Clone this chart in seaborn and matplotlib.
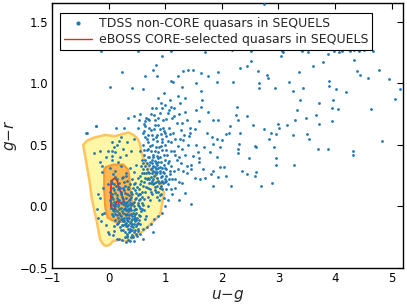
import numpy as np
import pandas as pd
import matplotlib
matplotlib.use("Agg")
import matplotlib.pyplot as plt
import seaborn as sns
from matplotlib.lines import Line2D

# ---------------- data ----------------
# TDSS non-CORE quasars: (u-g, g-r)
sparse_points = [
    (2.75,1.64),(-0.14,1.26),(0.51,1.26),(1.10,1.26),(1.71,1.25),(2.18,1.27),(2.52,1.26),(3.07,1.26),
    (4.07,1.25),(4.42,1.26),(4.52,1.27),(4.67,1.26),(3.41,1.26),(3.52,1.25),(3.88,1.24),(3.99,1.26),
    (4.13,1.26),(4.26,1.26),(4.34,1.27),(0.24,1.09),(0.02,0.97),(0.41,0.96),(0.60,0.95),(0.65,1.06),
    (0.79,1.11),(0.84,1.15),(0.95,1.22),(0.86,1.06),(1.10,1.02),(1.14,1.01),(1.23,1.06),(1.31,1.10),
    (1.41,1.11),(1.49,1.11),(1.63,1.08),(1.76,1.06),(1.94,1.09),(1.55,1.00),(1.29,0.97),(1.64,0.94),
    (1.91,1.01),(2.20,1.01),(2.32,1.12),(2.44,1.14),(2.52,1.18),(2.64,1.10),(2.65,1.00),(2.65,0.96),
    (2.79,1.07),(2.82,1.04),(2.94,0.96),(3.04,1.22),(3.08,1.25),(3.19,1.01),(3.25,0.94),(3.36,1.09),
    (3.44,0.96),(3.61,1.14),(3.78,1.17),(3.89,1.02),(3.90,0.98),(3.96,0.86),(4.02,0.95),(4.20,0.93),
    (4.33,1.19),(4.38,1.10),(4.45,1.07),(4.58,1.04),(4.78,1.11),(4.96,1.03),(5.06,0.87),(5.14,0.95),
    (4.64,0.79),(4.83,0.53),(3.94,0.80),(4.06,0.79),(3.95,0.69),(3.67,0.74),(3.71,0.67),(3.72,0.84),
    (3.48,0.72),(3.51,0.59),(3.54,0.55),(3.38,0.86),(3.32,0.78),(3.29,0.70),(3.15,0.66),(3.01,0.64),
    (3.00,0.67),(3.26,0.58),(2.96,0.59),(2.92,0.48),(2.96,0.39),(2.96,0.34),(3.27,0.34),(3.70,0.47),
    (3.87,0.47),(4.31,0.45),(4.32,0.42),(2.88,0.19),(2.70,0.17),(2.61,0.28),(2.58,0.25),(2.48,0.39),
    (2.58,0.49),(2.61,0.48),(2.75,0.63),(2.83,0.55),(2.86,0.60),(2.55,0.66),(2.45,0.73),(2.26,0.81),
    (2.25,0.74),(2.29,0.70),(2.32,0.60),(2.30,0.51),(2.29,0.47),(2.28,0.43),(2.35,0.29),(2.44,0.26),
    (2.14,0.65),(2.12,0.60),(2.08,0.59),(2.01,0.54),(1.96,0.48),(1.92,0.40),(1.96,0.32),(2.04,0.32),
    (2.08,0.25),(1.94,0.24),(1.85,0.29),(1.81,0.26),(1.67,0.30),(1.62,0.22),(1.60,0.36),(1.49,0.41),
    (1.58,0.44),(1.79,0.44),(1.85,0.51),(1.91,0.55),(1.82,0.56),(1.73,0.60),(1.85,0.70),(1.94,0.70),
    (1.76,0.77),(1.64,0.81),(1.65,0.86),(1.55,0.78),(1.60,0.69),(1.52,0.63),(1.44,0.64),(1.38,0.70),
    (1.34,0.77),(1.26,0.84),(1.34,0.88),(1.22,0.90),(1.11,0.81),(1.16,0.73),(1.42,0.57),(1.32,0.54),
    (1.55,0.50),(1.68,0.48),(1.59,0.39),(1.45,0.34),(1.38,0.33),(1.31,0.29),(1.29,0.19),(1.24,0.05),
    (1.46,0.02),(1.35,0.11),(1.52,0.23),(1.71,0.23),(2.17,0.17),(1.85,0.17),(0.79,-0.21),(1.17,0.22),
    (1.11,0.14),(1.02,0.21),(-0.40,0.60),(-0.22,0.65),(0.13,0.64),(0.27,0.64),(0.35,0.72),(0.44,0.73),
    (0.55,0.75),(0.64,0.69),(0.70,0.71),
]
core_region_points = [
    (0.02,0.31),(0.12,0.29),(0.21,0.33),(0.30,0.27),(0.38,0.31),(0.45,0.28),(0.07,0.26),(0.26,0.24),
    (0.49,0.34),(0.16,0.36),(0.04,0.21),(0.09,0.18),(0.14,0.22),(0.19,0.19),(0.23,0.23),(0.28,0.17),
    (0.33,0.21),(0.37,0.18),(0.42,0.22),(0.47,0.19),(0.52,0.23),(0.11,0.24),(0.31,0.25),(0.56,0.18),
    (0.03,0.12),(0.07,0.15),(0.12,0.11),(0.16,0.14),(0.21,0.12),(0.25,0.15),(0.29,0.11),(0.34,0.14),
    (0.39,0.12),(0.43,0.15),(0.48,0.11),(0.53,0.14),(0.58,0.12),(0.18,0.16),(0.36,0.09),(0.02,0.05),
    (0.06,0.08),(0.10,0.04),(0.14,0.07),(0.19,0.05),(0.23,0.08),(0.27,0.04),(0.31,0.07),(0.36,0.05),
    (0.40,0.08),(0.45,0.04),(0.49,0.07),(0.54,0.05),(0.58,0.08),(0.62,0.06),(0.17,0.02),(0.34,0.01),
    (0.04,-0.01),(0.08,0.01),(0.12,-0.02),(0.16,0.00),(0.21,-0.01),(0.25,0.02),(0.29,-0.02),(0.33,0.00),
    (0.38,-0.01),(0.42,0.02),(0.46,-0.02),(0.51,0.01),(0.55,-0.01),(0.60,0.01),(0.05,-0.06),(0.10,-0.04),
    (0.14,-0.07),(0.18,-0.05),(0.22,-0.08),(0.26,-0.05),(0.30,-0.07),(0.35,-0.04),(0.39,-0.06),(0.44,-0.08),
    (0.48,-0.05),(0.53,-0.07),(0.57,-0.04),(0.12,-0.11),(0.17,-0.13),(0.21,-0.10),(0.25,-0.12),(0.29,-0.14),
    (0.33,-0.11),(0.37,-0.13),(0.41,-0.10),(0.46,-0.12),(0.50,-0.14),(0.54,-0.11),(0.23,-0.15),(0.39,-0.16),
    (0.20,-0.17),(0.26,-0.19),(0.30,-0.16),(0.34,-0.18),(0.38,-0.20),(0.43,-0.17),(0.47,-0.19),(0.32,-0.22),
    (0.41,-0.23),(0.52,-0.18),(0.28,-0.25),(0.35,-0.27),(0.40,-0.25),(0.45,-0.28),(0.31,-0.29),(0.50,-0.24),
    (0.55,-0.22),(0.60,-0.26),(0.27,-0.09),(0.31,-0.03),(0.36,-0.09),(0.40,-0.03),(0.44,-0.10),(0.28,-0.01),
    (0.33,-0.16),(0.37,-0.02),(0.42,-0.14),(0.47,-0.09),(0.30,0.03),(0.35,-0.12),(0.45,0.00),(0.49,-0.11),
    (0.26,-0.15),(0.43,-0.05),(0.38,0.03),(0.32,-0.06),(0.41,-0.19),(0.36,-0.21),
    (-0.15,0.45),(-0.05,0.40),(0.05,0.45),(-0.12,0.28),(-0.18,0.10),(-0.10,0.15),(-0.08,-0.05),(-0.05,-0.15),
    (0.00,-0.22),(0.10,-0.20),(0.15,-0.26),(0.05,0.52),(0.15,0.50),(0.25,0.47),(0.33,0.52),(0.30,0.42),
    (0.40,0.45),(0.45,0.55),(0.20,0.40),(-0.02,0.18),(0.05,0.38),(0.12,0.44),(0.22,0.56),(-0.20,-0.02),
    (-0.39,0.60),(-0.23,0.65),(-0.26,0.43),(-0.16,0.36),(-0.12,0.33),(-0.01,0.45),(0.06,0.41),(0.09,0.48),
    (0.18,0.53),(-0.15,0.07),(-0.12,-0.06),(-0.18,-0.09),(-0.13,-0.12),(-0.01,-0.21),(0.07,-0.23),(0.09,-0.16),
    (0.18,-0.26),(0.24,-0.27),(0.32,-0.24),
]
core_dense_points = [
    (0.06,0.19),(0.13,0.17),(0.20,0.15),(0.27,0.20),(0.35,0.16),(0.44,0.18),(0.50,0.16),(0.05,0.10),
    (0.10,0.13),(0.15,0.09),(0.22,0.10),(0.27,0.13),(0.32,0.10),(0.41,0.10),(0.46,0.13),(0.51,0.09),
    (0.56,0.10),(0.04,0.03),(0.08,0.06),(0.12,0.02),(0.16,0.05),(0.21,0.03),(0.25,0.06),(0.29,0.01),
    (0.33,0.04),(0.38,0.06),(0.43,0.03),(0.47,0.06),(0.52,0.03),(0.56,0.06),(0.07,-0.03),(0.11,0.00),
    (0.15,-0.04),(0.19,-0.02),(0.23,-0.04),(0.27,-0.02),(0.35,-0.02),(0.39,0.01),(0.44,-0.03),(0.49,-0.02),
    (0.53,0.00),(0.58,-0.02),(0.08,-0.08),(0.12,-0.06),(0.16,-0.09),(0.20,-0.07),(0.24,-0.10),(0.28,-0.06),
    (0.32,-0.09),(0.36,-0.07),(0.41,-0.08),(0.46,-0.06),(0.50,-0.09),(0.55,-0.08),(0.14,-0.14),(0.19,-0.12),
    (0.27,-0.12),(0.31,-0.13),(0.35,-0.15),(0.39,-0.12),(0.44,-0.14),(0.48,-0.16),(0.52,-0.13),(0.22,-0.19),
    (0.28,-0.21),(0.37,-0.18),(0.45,-0.21),(0.49,-0.22),(0.33,-0.25),(0.38,-0.28),(0.43,-0.25),
]
cluster_points = [
    (0.55,0.25),(0.60,0.30),(0.63,0.20),(0.66,0.27),(0.68,0.35),(0.70,0.15),(0.72,0.22),(0.74,0.30),
    (0.76,0.38),(0.78,0.18),(0.80,0.25),(0.82,0.32),(0.84,0.20),(0.86,0.28),(0.88,0.36),(0.90,0.15),
    (0.92,0.24),(0.94,0.31),(0.96,0.19),(0.98,0.27),(1.00,0.22),(1.02,0.30),(1.05,0.18),(0.58,0.38),
    (0.62,0.42),(0.67,0.46),(0.71,0.40),(0.75,0.45),(0.79,0.42),(0.83,0.48),(0.87,0.44),(0.91,0.40),
    (0.95,0.46),(0.99,0.38),(1.03,0.42),(0.57,0.33),(0.64,0.12),(0.69,0.08),(0.73,0.05),(0.77,0.10),
    (0.81,0.13),(0.85,0.08),(0.89,0.05),(0.93,0.10),(0.97,0.07),(0.61,0.17),(0.65,0.33),(0.70,0.28),
    (0.75,0.24),(0.79,0.33),(0.83,0.26),(0.87,0.21),(0.91,0.32),(0.95,0.25),(0.74,0.19),(0.78,0.29),
    (0.82,0.16),(0.86,0.34),(0.90,0.27),(0.94,0.21),(0.67,0.22),(0.71,0.34),(0.63,0.27),(0.81,0.37),
    (0.85,0.41),(0.77,0.35),(0.73,0.14),(0.88,0.12),(0.92,0.17),(1.01,0.14),(1.08,0.26),(1.10,0.33),
    (1.06,0.37),(1.12,0.22),(1.15,0.29),(0.97,0.34),(0.99,0.50),(0.69,0.52),(0.56,0.45),(0.60,0.50),
    (0.64,0.56),(0.54,0.10),(0.58,0.03),(0.62,-0.03),(0.66,-0.08),(0.70,0.00),(0.56,-0.14),(0.60,-0.18),
    (0.64,-0.10),(0.52,-0.20),
    (0.57,0.21),(0.59,0.27),(0.61,0.35),(0.64,0.23),(0.66,0.16),(0.68,0.30),(0.69,0.40),(0.71,0.19),
    (0.72,0.27),(0.73,0.36),(0.75,0.12),(0.76,0.21),(0.77,0.31),(0.78,0.40),(0.80,0.19),(0.81,0.28),
    (0.83,0.35),(0.84,0.12),(0.85,0.23),(0.87,0.31),(0.88,0.39),(0.89,0.19),(0.90,0.09),(0.91,0.29),
    (0.93,0.36),(0.94,0.14),(0.96,0.28),(0.97,0.42),(0.99,0.20),(1.00,0.31),(1.02,0.25),(1.04,0.35),
    (1.07,0.22),(1.09,0.29),(0.62,0.46),(0.73,0.49),(0.81,0.45),(0.89,0.48),(0.79,0.22),(0.83,0.30),
    (0.86,0.17),(0.76,0.27),(0.70,0.23),(0.92,0.20),(0.65,0.38),
]
transition_points = [
    (0.60,0.60),(0.65,0.65),(0.70,0.58),(0.74,0.62),(0.78,0.55),(0.82,0.66),(0.86,0.58),(0.90,0.63),
    (0.94,0.55),(0.98,0.61),(1.02,0.57),(1.06,0.64),(1.10,0.52),(1.14,0.60),(1.18,0.55),(1.22,0.49),
    (0.72,0.70),(0.80,0.74),(0.88,0.72),(0.96,0.70),(1.04,0.76),(1.12,0.72),(1.20,0.68),(0.84,0.80),
    (0.92,0.84),(1.00,0.82),(1.08,0.86),(0.98,0.92),(1.16,0.45),(1.25,0.40),(1.30,0.47),(1.28,0.35),
    (1.20,0.38),(1.35,0.42),(1.40,0.50),(1.45,0.30),(1.38,0.27),(1.33,0.58),(1.27,0.62),(1.43,0.60),
    (0.77,0.50),(0.85,0.53),(0.93,0.49),(1.01,0.46),(0.66,0.72),(0.76,0.80),(0.62,0.67),(0.52,0.64),
    (0.54,0.70),(1.15,0.80),(1.24,0.75),(1.30,0.68),(1.05,0.05),(1.12,0.10),(1.18,0.15),(1.25,0.20),
    (1.00,0.00),(0.95,-0.05),(0.88,-0.08),(0.80,-0.10),(0.75,-0.14),(0.68,-0.17),
    (0.63,0.61),(0.68,0.55),(0.72,0.64),(0.76,0.58),(0.80,0.63),(0.84,0.56),(0.88,0.66),(0.92,0.59),
    (0.96,0.64),(1.00,0.60),(1.04,0.53),(1.08,0.59),(0.74,0.75),(0.82,0.70),(0.90,0.76),(0.95,0.80),
    (1.02,0.71),(1.07,0.78),(0.87,0.88),(1.10,0.45),(1.18,0.42),(1.22,0.30),(1.26,0.55),(0.70,0.47),
    (0.95,0.52),
]

# eBOSS CORE density contours (vertices)
outer_ug = [-0.45,-0.38,-0.25,-0.06,0.11,0.26,0.35,0.44,0.51,0.55,0.58,0.61,0.67,0.76,0.85,0.91,0.98,
            0.96,0.91,0.79,0.70,0.61,0.49,0.35,0.27,0.20,0.08,0.02,-0.04,-0.09,-0.15,-0.18,-0.21,-0.25,
            -0.30,-0.34,-0.39]
outer_gr = [0.50,0.535,0.56,0.58,0.57,0.59,0.60,0.58,0.55,0.51,0.44,0.40,0.34,0.29,0.23,0.19,0.11,
            0.07,-0.07,-0.12,-0.16,-0.20,-0.23,-0.28,-0.28,-0.27,-0.28,-0.31,-0.32,-0.31,-0.27,-0.20,-0.12,-0.04,
            0.07,0.21,0.34]
mid_ug = [-0.05,0.08,0.26,0.34,0.36,0.38,0.41,0.39,0.35,0.26,0.14,0.05,-0.02,-0.06,-0.08,-0.08,-0.08]
mid_gr = [0.32,0.34,0.34,0.30,0.26,0.15,0.04,-0.04,-0.09,-0.12,-0.13,-0.11,-0.09,-0.01,0.13,0.23,0.30]
inner_ug = [0.05,0.11,0.15,0.18,0.23,0.27,0.23,0.14,0.11,0.08,0.04,0.04,0.04]
inner_gr = [0.21,0.23,0.21,0.15,0.10,0.04,0.03,0.04,-0.01,-0.03,0.00,0.10,0.17]

x_ticks = [-1, 0, 1, 2, 3, 4, 5]
y_ticks = [-0.5, 0.0, 0.5, 1.0, 1.5]
tdss_label = "TDSS non-CORE quasars in SEQUELS"
core_label = "eBOSS CORE-selected quasars in SEQUELS"

# ---------------- plotting ----------------
sns.set_style("white")
plt.rcParams["font.family"] = ["DejaVu Sans"]
plt.rcParams["mathtext.fontset"] = "dejavusans"

pts = sparse_points + core_region_points + core_dense_points + cluster_points + transition_points
df = pd.DataFrame(pts, columns=["ug", "gr"])

fig = plt.figure(figsize=(4.07, 3.04), dpi=100)
ax = fig.add_axes([0.128, 0.118, 0.862, 0.872])

ax.fill(outer_ug, outer_gr, facecolor="#fff6a6", edgecolor="#ffc45e", linewidth=1.8, zorder=1)
ax.fill(mid_ug, mid_gr, facecolor="#ffb84d", edgecolor="#f59a3a", linewidth=1.5, zorder=2)
ax.fill(inner_ug, inner_gr, facecolor="none", edgecolor="#e8262a", linewidth=1.3, zorder=3)

sns.scatterplot(data=df, x="ug", y="gr", ax=ax, s=4, linewidth=0, color="#1f77b4",
                marker="o", zorder=4, legend=False)

ax.set_xlim(-1, 5.2)
ax.set_ylim(-0.5, 1.65)
ax.set_xticks(x_ticks)
ax.set_yticks(y_ticks)
ax.set_xticklabels([f"{t:d}".replace("-", "\u2212") for t in x_ticks])
ax.set_yticklabels([f"{t:.1f}".replace("-", "\u2212") for t in y_ticks])
ax.tick_params(direction="in", top=True, right=True, length=4, width=0.8,
               labelsize=8.5, colors="black", pad=3)
for s in ax.spines.values():
    s.set_color("black")
    s.set_linewidth(1.0)
ax.set_xlabel(r"$u{-}g$", fontsize=11, labelpad=2)
ax.set_ylabel(r"$g{-}r$", fontsize=11)
ax.yaxis.set_label_coords(-0.095, 0.5)

handles = [
    Line2D([], [], linestyle="none", marker="o", markersize=2.0, color="#1f77b4"),
    Line2D([], [], color="#e8262a", linewidth=1.0),
]
leg = ax.legend(handles, [tdss_label, core_label], loc="upper left",
                bbox_to_anchor=(0.006, 0.985), fontsize=9, frameon=True, fancybox=False,
                edgecolor="black", framealpha=1, handlelength=2.2, borderpad=0.3,
                labelspacing=0.25, handletextpad=0.6)
leg.get_frame().set_linewidth(0.8)

fig.savefig("out.png", dpi=100)
